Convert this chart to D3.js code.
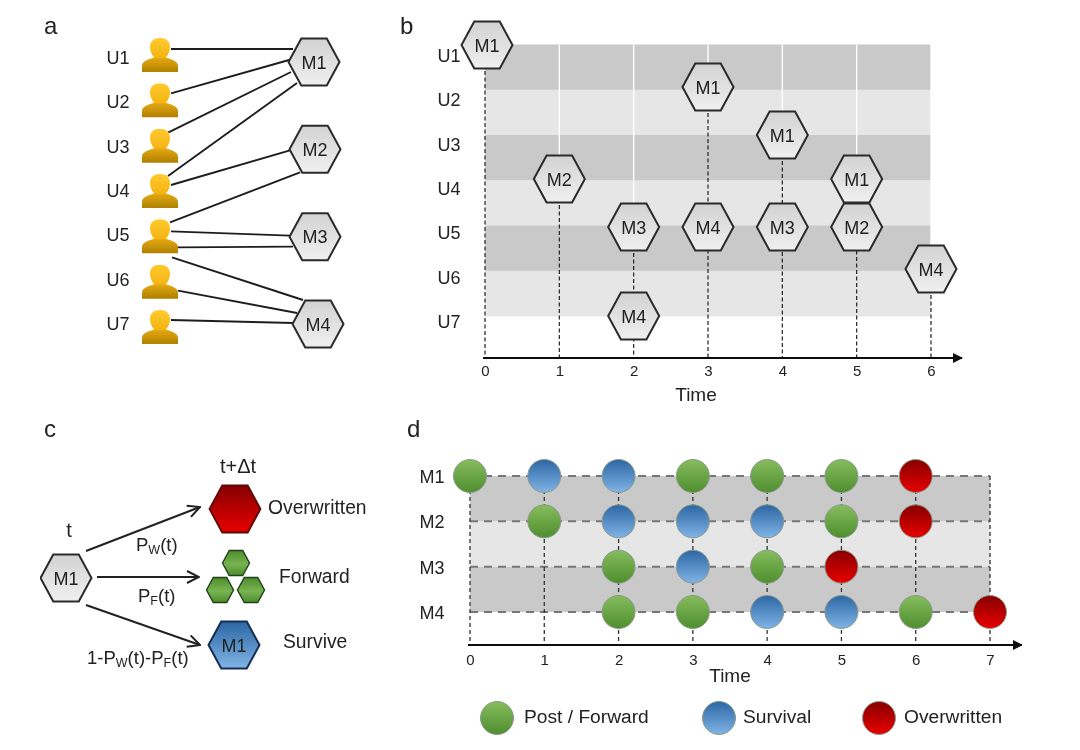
<!DOCTYPE html>
<html><head><meta charset="utf-8">
<script src="https://cdn.jsdelivr.net/npm/d3@7"></script>
<style>html,body{margin:0;background:#fff}svg{display:block}text{font-family:"Liberation Sans",Arial,sans-serif;fill:#222}</style>
</head><body><svg id="c" width="1080" height="750"></svg>
<script>
// ---------- data ----------
const users = ["U1","U2","U3","U4","U5","U6","U7"];
const messages = ["M1","M2","M3","M4"];
// panel a: who holds which message (user index, message index)
const followLinks = [[0,0],[1,0],[2,0],[3,0],[3,1],[4,1],[4,2],[4,2],[4,3],[5,3],[6,3]];
// panel b: posting events (time, user index, message)
const postTimes = [0,3,4,5,1,2,3,4,5,6,2];
const postUsers = [0,1,2,3,3,4,4,4,4,5,6];
const postMsgs  = ["M1","M1","M1","M1","M2","M3","M4","M3","M2","M4","M4"];
// panel d: message state per time step (g post/forward, b survival, r overwritten, - none)
const states = {
  M1:["g","b","b","g","g","g","r","-"],
  M2:["-","g","b","b","b","g","r","-"],
  M3:["-","-","g","b","g","r","-","-"],
  M4:["-","-","g","g","b","b","g","r"]
};
const legendLabels = [["g","Post / Forward"],["b","Survival"],["r","Overwritten"]];
const ticksB = [0,1,2,3,4,5,6];
const ticksD = [0,1,2,3,4,5,6,7];

// ---------- layout ----------
const svg = d3.select("#c");
const defs = svg.append("defs");
const root = svg.append("g").attr("filter","url(#soft)");
defs.append("filter").attr("id","soft").attr("x",0).attr("y",0).attr("width",1).attr("height",1)
  .attr("filterUnits","objectBoundingBox")
  .append("feGaussianBlur").attr("stdDeviation",0.35);

function grad(id, stops){
  const g = defs.append("linearGradient").attr("id",id).attr("x1",0).attr("y1",0).attr("x2",0).attr("y2",1);
  stops.forEach(([o,c])=>g.append("stop").attr("offset",o).attr("stop-color",c));
}
grad("gGray",[[0,"#d2d2d2"],[1,"#f0f0f0"]]);
grad("gRed",[[0,"#860000"],[1,"#e80000"]]);
grad("gBlue",[[0,"#2c66a4"],[1,"#80b4e6"]]);
grad("gGreen",[[0,"#86bd5e"],[1,"#4f8e2e"]]);
grad("gGreenHex",[[0,"#4d8c2c"],[0.55,"#78b552"],[1,"#4d8c2c"]]);
grad("gGold",[[0,"#ffcb2e"],[0.55,"#f5b516"],[0.62,"#e0a50f"],[1,"#ae8000"]]);
const fills = {g:"url(#gGreen)", b:"url(#gBlue)", r:"url(#gRed)"};

const hexLine = d3.line();
const hexPath = (w,h) => hexLine([[-w,0],[-w/2,-h],[w/2,-h],[w,0],[w/2,h],[-w/2,h]])+"Z";
function hex(p,x,y,label,fill="url(#gGray)",w=25.5,h=23.5,stroke="#2b2b2b",sw=2){
  const g = p.append("g").attr("transform",`translate(${x},${y})`);
  g.append("path").attr("d",hexPath(w,h)).attr("fill",fill).attr("stroke",stroke).attr("stroke-width",sw).attr("stroke-linejoin","miter");
  if(label) g.append("text").attr("text-anchor","middle").attr("dy",6.5).attr("font-size",18).text(label);
}
function txt(p,x,y,s,size=18,anchor="start"){
  return p.append("text").attr("x",x).attr("y",y).attr("font-size",size).attr("text-anchor",anchor).text(s);
}
defs.append("marker").attr("id","tri").attr("viewBox","0 0 10 10").attr("refX",9).attr("refY",5)
  .attr("markerWidth",13).attr("markerHeight",10).attr("markerUnits","userSpaceOnUse").attr("orient","auto")
  .append("path").attr("d","M0,0L10,5L0,10Z").attr("fill","#111");
defs.append("marker").attr("id","open").attr("viewBox","0 0 14 14").attr("refX",13).attr("refY",7)
  .attr("markerWidth",14).attr("markerHeight",14).attr("markerUnits","userSpaceOnUse").attr("orient","auto")
  .append("path").attr("d","M1,1L13,7L1,13").attr("fill","none").attr("stroke","#222").attr("stroke-width",2);

// panel letters
[["a",44,34],["b",400,34],["c",44,437],["d",407,437]].forEach(([s,x,y])=>txt(root,x,y,s,24));

// ---------- panel a ----------
const aUserY = d3.scaleLinear().domain([0,6]).range([55,327]);
const aLabelY = d3.scaleLinear().domain([0,6]).range([64,330]);
const aMsgY = d3.scaleLinear().domain([0,3]).range([62,324]);
const aMsgX = [314,315,315,318];
const aUserX = 160;
// link attachment offsets from avatar centre and hexagon centre
const aAnchors = [[11,-6,-21,-13],[11,-7,-25,-2],[8,-13,-23,10],[8,-15,-17,21],[11,-6,-25,1],
  [10,-14,-15,23],[11,-5,-25,-1],[17,11,-22,10],[12,21,-15,-24],[18,9,-21,-11],[11,-7,-25,-1]];
const pa = root.append("g");
pa.selectAll("line").data(followLinks).join("line")
  .attr("x1",(d,i)=>aUserX+aAnchors[i][0]).attr("y1",(d,i)=>aUserY(d[0])+aAnchors[i][1])
  .attr("x2",(d,i)=>aMsgX[d[1]]+aAnchors[i][2]).attr("y2",(d,i)=>aMsgY(d[1])+aAnchors[i][3])
  .attr("stroke","#1f1f1f").attr("stroke-width",1.9);
const avatar = "M-18,17V11C-18,6 -12,4.5 -6,2.5C-9,-1 -10,-5 -10,-8C-10,-14 -6,-17 0,-17C6,-17 10,-14 10,-8C10,-5 9,-1 6,2.5C12,4.5 18,6 18,11V17Z";
users.forEach((u,i)=>{
  pa.append("path").attr("d",avatar).attr("transform",`translate(${aUserX},${aUserY(i)})`).attr("fill","url(#gGold)");
  txt(pa,118,aLabelY(i),u,18,"middle");
});
messages.forEach((m,i)=>hex(pa,aMsgX[i],aMsgY(i),m));

// ---------- panel b ----------
const bx = d3.scaleLinear().domain([0,6]).range([485,931]);
const bBand = d3.scaleLinear().domain([0,6]).range([44.5,316]);
const by = d3.scaleOrdinal().domain(d3.range(7)).range([45,87,135,179,227,269,316]);
const bLabelY = d3.scaleLinear().domain([0,6]).range([62,328]);
const bAxisY = 358;
const pb = root.append("g");
d3.range(6).forEach(i=>pb.append("rect").attr("x",bx(0)).attr("y",bBand(i)).attr("width",bx(6)-bx(0)).attr("height",bBand(i+1)-bBand(i)+0.5)
  .attr("fill",i%2?"#e6e6e6":"#c9c9c9"));
users.forEach((u,i)=>txt(pb,449,bLabelY(i),u,18,"middle"));
ticksB.forEach(t=>{
  const firstRow = d3.min(postTimes.map((p,i)=>p===t?postUsers[i]:Infinity));
  pb.append("line").attr("x1",bx(t)).attr("x2",bx(t)).attr("y1",by(0)).attr("y2",by(firstRow)).attr("stroke","#fff").attr("stroke-width",1.4);
  pb.append("line").attr("x1",bx(t)).attr("x2",bx(t)).attr("y1",by(firstRow)).attr("y2",bAxisY).attr("stroke","#222").attr("stroke-width",1.2).attr("stroke-dasharray","4 2.5");
});
pb.append("line").attr("x1",483).attr("x2",962).attr("y1",bAxisY).attr("y2",bAxisY).attr("stroke","#111").attr("stroke-width",2).attr("marker-end","url(#tri)");
const axB = pb.append("g").attr("transform",`translate(0,${bAxisY})`).call(d3.axisBottom(bx).tickValues(ticksB).tickFormat(d3.format("d")).tickSize(0).tickPadding(7));
axB.select(".domain").remove();
axB.selectAll("text").attr("font-size",15).attr("font-family","Liberation Sans").attr("fill","#222");
txt(pb,696,401,"Time",19,"middle");
postTimes.forEach((t,i)=>hex(pb,bx(t)+(t===0?2:0),by(postUsers[i]),postMsgs[i]));

// ---------- panel c ----------
const pc = root.append("g");
function rich(p,x,y,parts,anchor="start"){
  const t = p.append("text").attr("x",x).attr("y",y).attr("font-size",18.5).attr("text-anchor",anchor);
  let prevSub = false;
  parts.forEach(s=>{
    if(s.startsWith("_")) { t.append("tspan").attr("font-size",12.5).attr("dy",3).text(s.slice(1)); prevSub = true; }
    else { t.append("tspan").attr("dy",prevSub?-3:0).text(s); prevSub = false; }
  });
}
[[86,551,200,507],[97,577,199,577],[86,605,200,645]].forEach(a=>
  pc.append("line").attr("x1",a[0]).attr("y1",a[1]).attr("x2",a[2]).attr("y2",a[3]).attr("stroke","#222").attr("stroke-width",2).attr("marker-end","url(#open)"));
hex(pc,66,578,"M1");
txt(pc,69,537,"t",20,"middle");
txt(pc,238,473,"t+\u0394t",20,"middle");
hex(pc,235,509,null,"url(#gRed)",25.5,23.5,"#5a0a0a",1.8);
[[236,563],[220,590],[251,590]].forEach(([x,y])=>hex(pc,x,y,null,"url(#gGreenHex)",13.5,12.5,"#23401a",1.4));
hex(pc,234,645,"M1","url(#gBlue)",25.5,23.5,"#142f52",2);
txt(pc,268,514,"Overwritten",19.3);
txt(pc,279,583,"Forward",19.3);
txt(pc,283,648,"Survive",19.3);
rich(pc,136,551,["P","_W","(t)"]);
rich(pc,138,602,["P","_F","(t)"]);
rich(pc,87,664,["1-P","_W","(t)-P","_F","(t)"]);

// ---------- panel d ----------
const dx = d3.scaleLinear().domain([0,7]).range([470,990]);
const dy = d3.scalePoint().domain(messages).range([476,612]);
const dAxisY = 645;
const pd = root.append("g");
[0,1,2].forEach(i=>pd.append("rect").attr("x",dx(0)).attr("y",dy(messages[i])).attr("width",dx(7)-dx(0)).attr("height",dy(messages[i+1])-dy(messages[i]))
  .attr("fill",i%2?"#e6e6e6":"#c9c9c9"));
messages.forEach(m=>{
  txt(pd,432,dy(m)+7,m,18,"middle");
  pd.append("line").attr("x1",dx(0)).attr("x2",dx(7)).attr("y1",dy(m)).attr("y2",dy(m)).attr("stroke","#777").attr("stroke-width",2).attr("stroke-dasharray","8 6");
});
ticksD.forEach(t=>pd.append("line").attr("x1",dx(t)).attr("x2",dx(t)).attr("y1",dy("M1")).attr("y2",dAxisY).attr("stroke","#333").attr("stroke-width",1.3).attr("stroke-dasharray","4 3"));
pd.append("line").attr("x1",468).attr("x2",1022).attr("y1",dAxisY).attr("y2",dAxisY).attr("stroke","#111").attr("stroke-width",2).attr("marker-end","url(#tri)");
const axD = pd.append("g").attr("transform",`translate(0,${dAxisY})`).call(d3.axisBottom(dx).tickValues(ticksD).tickFormat(d3.format("d")).tickSize(0).tickPadding(9));
axD.select(".domain").remove();
axD.selectAll("text").attr("font-size",15).attr("font-family","Liberation Sans").attr("fill","#222");
txt(pd,730,682,"Time",19,"middle");
const dot = (p,x,y,k)=>p.append("circle").attr("cx",x).attr("cy",y).attr("r",16.5).attr("fill",fills[k]).attr("stroke","#8b9a8b").attr("stroke-width",1);
messages.forEach(m=>states[m].forEach((k,t)=>{ if(k!=="-") dot(pd,dx(t),dy(m),k); }));
const legX = [[497,524],[719,743],[879,904]];
legendLabels.forEach(([k,s],i)=>{
  dot(pd,legX[i][0],718,k);
  txt(pd,legX[i][1],723,s,19.2);
});
</script></body></html>
